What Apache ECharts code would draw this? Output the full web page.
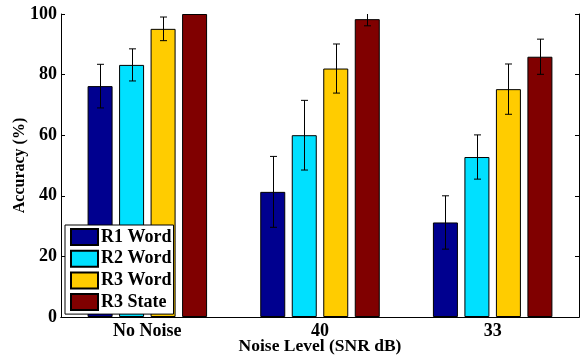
<!DOCTYPE html>
<html>
<head>
<meta charset="utf-8">
<script src="https://cdn.jsdelivr.net/npm/echarts@6/dist/echarts.min.js"></script>
<style>html,body{margin:0;padding:0;background:#fff;}#c{width:580px;height:356px;}</style>
</head>
<body>
<div id="c"></div>
<script>
var categories = ['No Noise', '40', '33'];
var seriesNames = ['R1 Word', 'R2 Word', 'R3 Word', 'R3 State'];
var r1Word = [76.2, 41.3, 31.2];
var r1WordErr = [7.2, 11.7, 8.8];
var r2Word = [83.2, 60.0, 52.8];
var r2WordErr = [5.3, 11.5, 7.3];
var r3Word = [95.1, 82.0, 75.2];
var r3WordErr = [3.9, 8.1, 8.3];
var r3State = [100, 98.3, 85.9];
var r3StateErr = [0, 2.2, 5.8];
var yTicks = [0, 20, 40, 60, 80, 100];

var colors = ['#00008f', '#00e0ff', '#ffcc00', '#800000'];
var values = [r1Word, r2Word, r3Word, r3State];
var errors = [r1WordErr, r2WordErr, r3WordErr, r3StateErr];
var FONT = 'Liberation Serif';
var BAR_W = 25, BAR_GAP = 6.5;

var chart = echarts.init(document.getElementById('c'), null, {renderer: 'canvas'});
var series = [];
values.forEach(function (vals, s) {
  series.push({
    name: seriesNames[s], type: 'bar', data: vals, xAxisIndex: 0, yAxisIndex: 0,
    barWidth: BAR_W, barGap: (BAR_GAP / BAR_W * 100) + '%',
    itemStyle: {color: colors[s], borderColor: '#000', borderWidth: 1},
    emphasis: {disabled: true}, z: 2
  });
});
values.forEach(function (vals, s) {
  var d = vals.map(function (v, i) { return [i, v, errors[s][i]]; });
  series.push({
    type: 'custom', xAxisIndex: 0, yAxisIndex: 0, clip: true, z: 3, silent: true,
    data: d,
    renderItem: function (params, api) {
      var i = api.value(0), v = api.value(1), e = api.value(2);
      if (!e) return null;
      var off = (s - 1.5) * (BAR_W + BAR_GAP);
      var top = api.coord([i, v + e]);
      var bot = api.coord([i, v - e]);
      var x = Math.round(top[0] + off) + 0.5;
      var cap = 3.5;
      var st = {stroke: '#000', lineWidth: 1};
      return {type: 'group', children: [
        {type: 'line', shape: {x1: x, y1: top[1], x2: x, y2: bot[1]}, style: st},
        {type: 'line', shape: {x1: x - cap, y1: top[1], x2: x + cap, y2: top[1]}, style: st},
        {type: 'line', shape: {x1: x - cap, y1: bot[1], x2: x + cap, y2: bot[1]}, style: st}
      ]};
    }
  });
});

var lbl = {fontFamily: FONT, fontWeight: 'bold', color: '#000'};
chart.setOption({
  animation: false,
  backgroundColor: '#fff',
  grid: {left: 61, top: 14, width: 518, height: 303, containLabel: false, outerBoundsMode: 'none'},
  legend: {
    data: seriesNames, orient: 'vertical', left: 65, top: 225,
    backgroundColor: '#fff', borderColor: '#000', borderWidth: 1,
    padding: [3, 2, 3, 5], itemWidth: 27, itemHeight: 16, itemGap: 3.7,
    textStyle: {fontFamily: FONT, fontWeight: 'bold', fontSize: 18, color: '#000', padding: [0, 0, 0, -2]},
    icon: 'rect', selectedMode: false, z: 10
  },
  xAxis: [{
    type: 'category', data: categories, position: 'bottom', boundaryGap: true,
    axisLine: {lineStyle: {color: '#000', width: 1}},
    axisTick: {inside: true, length: 4, alignWithLabel: true, lineStyle: {color: '#000'}},
    axisLabel: Object.assign({fontSize: 18, margin: 5}, lbl),
    name: 'Noise Level (SNR dB)', nameLocation: 'middle', nameGap: 20, nameMoveOverlap: false,
    nameTextStyle: Object.assign({fontSize: 17.5}, lbl),
    splitLine: {show: false}
  }, {
    type: 'category', data: categories, position: 'top', boundaryGap: true,
    axisLine: {lineStyle: {color: '#000', width: 1}},
    axisTick: {inside: true, length: 4, alignWithLabel: true, lineStyle: {color: '#000'}},
    axisLabel: {show: false}, splitLine: {show: false}
  }],
  yAxis: [{
    type: 'value', min: 0, max: 100, interval: 20, position: 'left',
    axisLine: {show: true, lineStyle: {color: '#000', width: 1}},
    axisTick: {show: true, inside: true, length: 4, lineStyle: {color: '#000'}},
    axisLabel: Object.assign({fontSize: 18, margin: 4, formatter: function (v) { return yTicks.indexOf(v) >= 0 ? String(v) : ''; }}, lbl),
    name: 'Accuracy (%)', nameLocation: 'middle', nameGap: 33, nameRotate: 90, nameMoveOverlap: false,
    nameTextStyle: Object.assign({fontSize: 16}, lbl),
    splitLine: {show: false}
  }, {
    type: 'value', min: 0, max: 100, interval: 20, position: 'right',
    axisLine: {show: true, lineStyle: {color: '#000', width: 1}},
    axisTick: {show: true, inside: true, length: 4, lineStyle: {color: '#000'}},
    axisLabel: {show: false}, splitLine: {show: false}
  }],
  series: series
});
</script>
</body>
</html>
